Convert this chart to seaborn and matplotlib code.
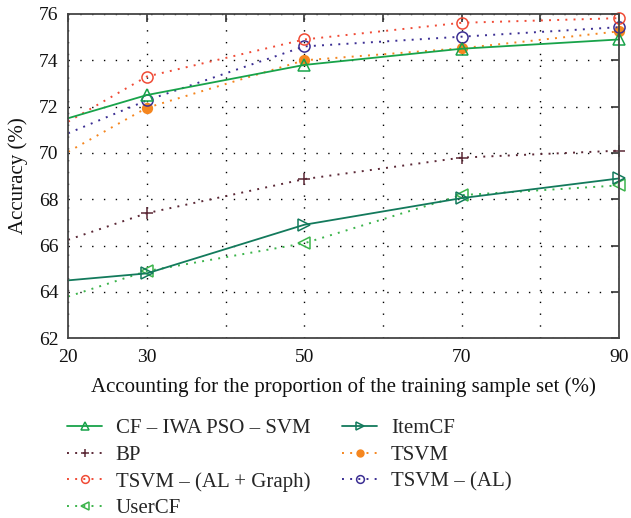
import matplotlib
matplotlib.use("Agg")
import matplotlib.pyplot as plt
from matplotlib.lines import Line2D
import seaborn as sns
import pandas as pd

x_vals = [20, 30, 50, 70, 90]
cf_iwa = [71.5, 72.5, 73.8, 74.5, 74.9]
item_cf = [64.5, 64.8, 66.9, 68.05, 68.9]
bp = [66.25, 67.4, 68.87, 69.8, 70.1]
tsvm = [70.05, 71.95, 74.0, 74.52, 75.25]
tsvm_alg = [71.35, 73.3, 74.9, 75.62, 75.82]
tsvm_al = [70.85, 72.27, 74.6, 75.02, 75.43]
user_cf = [63.8, 64.9, 66.1, 68.18, 68.6]

names = ["CF \u2013 IWA PSO \u2013 SVM", "ItemCF", "BP", "TSVM",
         "TSVM \u2013 (AL + Graph)", "TSVM \u2013 (AL)", "UserCF"]
series = [cf_iwa, item_cf, bp, tsvm, tsvm_alg, tsvm_al, user_cf]

x_ticks = [20, 30, 40, 50, 60, 70, 80, 90]
x_ticklabels = ["20", "30", "", "50", "", "70", "", "90"]
y_ticks = [62, 64, 66, 68, 70, 72, 74, 76]

dot = (0, (1, 3.2))
styles = {
    names[0]: dict(color="#18a34a", ls="-", marker="^", mfc="none", ms=9, lw=1.3),
    names[1]: dict(color="#137a5c", ls="-", marker=">", mfc="none", ms=9, lw=1.3),
    names[2]: dict(color="#5b2836", ls=dot, marker="+", mfc="none", ms=9, lw=1.4),
    names[3]: dict(color="#f5861f", ls=dot, marker="o", mfc="#f5861f", ms=7, lw=1.4),
    names[4]: dict(color="#f04b36", ls=dot, marker="o", mfc="none", ms=8, lw=1.4),
    names[5]: dict(color="#3b2e93", ls=dot, marker="o", mfc="none", ms=8, lw=1.4),
    names[6]: dict(color="#3cb44b", ls=dot, marker="<", mfc="none", ms=9, lw=1.4),
}

sns.set_style("white")
plt.rcParams["font.family"] = ["Liberation Serif", "DejaVu Serif"]

fig = plt.figure(figsize=(6.31, 5.18), dpi=100)
ax = fig.add_axes([0.108, 0.347, 0.873, 0.626])

draw_order = [names[6], names[1], names[2], names[3], names[5], names[4], names[0]]
for nm in draw_order:
    vals = series[names.index(nm)]
    st = styles[nm]
    df = pd.DataFrame({"x": x_vals, "y": vals})
    sns.lineplot(data=df, x="x", y="y", ax=ax, color=st["color"],
                 linestyle=st["ls"], linewidth=st["lw"], marker=st["marker"],
                 markersize=st["ms"], markerfacecolor=st["mfc"],
                 markeredgecolor=st["color"], markeredgewidth=1.1,
                 markevery=[1, 2, 3, 4], clip_on=False, legend=False,
                 estimator=None, sort=False)

ax.set_xlim(20, 90)
ax.set_ylim(62, 76)
ax.set_xticks(x_ticks)
ax.set_xticklabels(x_ticklabels)
ax.set_yticks(y_ticks)
ax.grid(True, color="black", linestyle=(0, (1, 7.5)), linewidth=1.0)
ax.tick_params(direction="in", top=True, right=True, length=6, width=1.2,
               labelsize=14, colors="#333333", labelcolor="#111111", pad=7)
ax.tick_params(axis="x", pad=8)
for sp in ax.spines.values():
    sp.set_color("#444444")
    sp.set_linewidth(1.3)
ax.set_xlabel("Accounting for the proportion of the training sample set (%)",
              fontsize=15, color="#111111", labelpad=8)
ax.set_ylabel("Accuracy (%)", fontsize=15, color="#111111", labelpad=8)

col1 = [names[0], names[2], names[4], names[6]]
col2 = [names[1], names[3], names[5]]


def make_handles(lst):
    hs = []
    for nm in lst:
        st = styles[nm]
        hs.append(Line2D([0], [0], color=st["color"], linestyle=st["ls"],
                         linewidth=st["lw"], marker=st["marker"],
                         markersize=st["ms"] * 0.7, markerfacecolor=st["mfc"],
                         markeredgecolor=st["color"], markeredgewidth=1.1))
    return hs


common = dict(loc="upper left", frameon=False, fontsize=15, handlelength=1.7,
              labelspacing=0.34, handletextpad=0.65, borderaxespad=0,
              borderpad=0)
fig.legend(make_handles(col1), col1, bbox_to_anchor=(0.106, 0.192), **common)
fig.legend(make_handles(col2), col2, bbox_to_anchor=(0.542, 0.192), **common)

fig.savefig("out.png", dpi=100)
